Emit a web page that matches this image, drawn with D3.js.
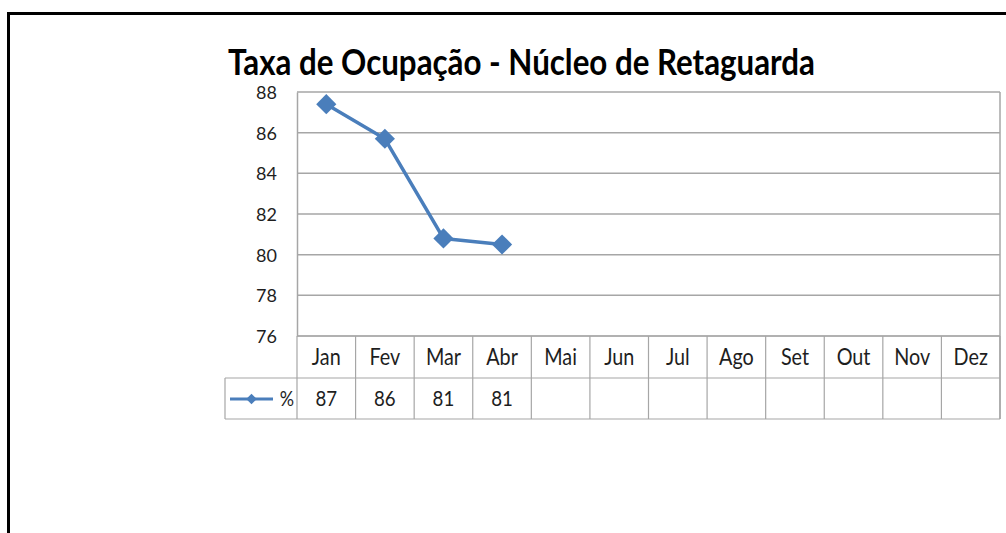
<!DOCTYPE html>
<html>
<head>
<meta charset="utf-8">
<script src="https://cdn.jsdelivr.net/npm/d3@7"></script>
<style>
  html, body { margin: 0; padding: 0; background: #fff; }
  svg { display: block; }
</style>
</head>
<body>
<svg id="chart" width="1006" height="533"></svg>
<script>
const titleText = "Taxa de Ocupação - Núcleo de Retaguarda";
const months = ["Jan", "Fev", "Mar", "Abr", "Mai", "Jun", "Jul", "Ago", "Set", "Out", "Nov", "Dez"];
const values = [87.4, 85.7, 80.8, 80.5];
const tableLabels = ["87", "86", "81", "81"];
const yTicks = [76, 78, 80, 82, 84, 86, 88];
const seriesName = "%";

const svg = d3.select("#chart");
const font = "Lato, 'Open Sans', sans-serif";
const lineColor = "#4a7ebb";
const gridColor = "#a6a6a6";
const textColor = "#1e1e1e";

const plotLeft = 297, plotRight = 1000, plotTop = 92, plotBottom = 336;
const headerBottom = 378, tableBottom = 419, tableLeft = 225;

const x = d3.scaleBand().domain(months).range([plotLeft, plotRight]);
const y = d3.scaleLinear().domain([76, 88]).range([plotBottom, plotTop]);

function squeeze(sel, k) {
  sel.each(function () {
    const w = this.getComputedTextLength();
    d3.select(this).attr("textLength", w * k).attr("lengthAdjust", "spacingAndGlyphs");
  });
}

// outer frame
svg.append("path")
  .attr("d", `M8.5,533 L8.5,13.5 L1006,13.5`)
  .attr("fill", "none").attr("stroke", "#000").attr("stroke-width", 3);

// title
svg.append("text")
  .attr("x", 228).attr("y", 75)
  .attr("font-family", font).attr("font-weight", "bold").attr("font-size", 37)
  .attr("fill", "#000")
  .attr("textLength", 587).attr("lengthAdjust", "spacingAndGlyphs")
  .text(titleText);

// gridlines
svg.append("g").selectAll("line").data(yTicks).join("line")
  .attr("x1", plotLeft).attr("x2", plotRight)
  .attr("y1", d => y(d)).attr("y2", d => y(d))
  .attr("stroke", gridColor).attr("stroke-width", 1.5);

// y axis via d3
const yAxis = svg.append("g")
  .attr("transform", `translate(${plotLeft},0)`)
  .call(d3.axisLeft(y).tickValues(yTicks).tickSize(0).tickPadding(20));
yAxis.select(".domain").attr("stroke", gridColor).attr("stroke-width", 1.5);
yAxis.selectAll("text")
  .attr("font-family", font).attr("font-size", 18).attr("fill", textColor)
  .attr("dy", "0.36em");

// plot right border
svg.append("line")
  .attr("x1", plotRight).attr("x2", plotRight)
  .attr("y1", plotTop).attr("y2", tableBottom)
  .attr("stroke", gridColor).attr("stroke-width", 1.5);

// table grid
const tableG = svg.append("g");
const bounds = months.map(m => x(m)).concat([plotRight]);
tableG.selectAll("line.v").data(bounds).join("line")
  .attr("class", "v")
  .attr("x1", d => d).attr("x2", d => d)
  .attr("y1", plotBottom).attr("y2", tableBottom)
  .attr("stroke", gridColor).attr("stroke-width", 1.2);
[[plotLeft, plotBottom], [tableLeft, headerBottom], [tableLeft, tableBottom]].forEach(([x0, yy]) => {
  tableG.append("line")
    .attr("x1", x0).attr("x2", plotRight)
    .attr("y1", yy).attr("y2", yy)
    .attr("stroke", gridColor).attr("stroke-width", 1.2);
});
tableG.append("line")
  .attr("x1", tableLeft).attr("x2", tableLeft)
  .attr("y1", headerBottom).attr("y2", tableBottom)
  .attr("stroke", gridColor).attr("stroke-width", 1.2);

// month labels
svg.append("g").selectAll("text").data(months).join("text")
  .attr("x", d => x(d) + x.bandwidth() / 2)
  .attr("y", 365)
  .attr("text-anchor", "middle")
  .attr("font-family", font).attr("font-size", 23).attr("fill", textColor)
  .text(d => d)
  .call(squeeze, 0.86);

// data labels in table
svg.append("g").selectAll("text").data(tableLabels).join("text")
  .attr("x", (d, i) => x(months[i]) + x.bandwidth() / 2)
  .attr("y", 406)
  .attr("text-anchor", "middle")
  .attr("font-family", font).attr("font-size", 21).attr("fill", textColor)
  .text(d => d)
  .call(squeeze, 0.89);

// legend key
const legY = 399;
svg.append("line")
  .attr("x1", 230).attr("x2", 273).attr("y1", legY).attr("y2", legY)
  .attr("stroke", lineColor).attr("stroke-width", 3);
svg.append("path")
  .attr("d", d3.symbol(d3.symbolDiamond2, 70)())
  .attr("transform", `translate(251.5,${legY})`)
  .attr("fill", lineColor);
svg.append("text")
  .attr("x", 294).attr("y", 406)
  .attr("text-anchor", "end")
  .attr("font-family", font).attr("font-size", 21).attr("fill", textColor)
  .text(seriesName)
  .call(squeeze, 0.85);

// series line
svg.append("path")
  .datum(values)
  .attr("d", d3.line().x((d, i) => x(months[i]) + x.bandwidth() / 2).y(d => y(d)))
  .attr("fill", "none").attr("stroke", lineColor).attr("stroke-width", 3.5)
  .attr("stroke-linejoin", "round");
svg.append("g").selectAll("path").data(values).join("path")
  .attr("d", d3.symbol(d3.symbolDiamond2, 260)())
  .attr("transform", (d, i) => `translate(${x(months[i]) + x.bandwidth() / 2},${y(d)})`)
  .attr("fill", lineColor);
</script>
</body>
</html>
